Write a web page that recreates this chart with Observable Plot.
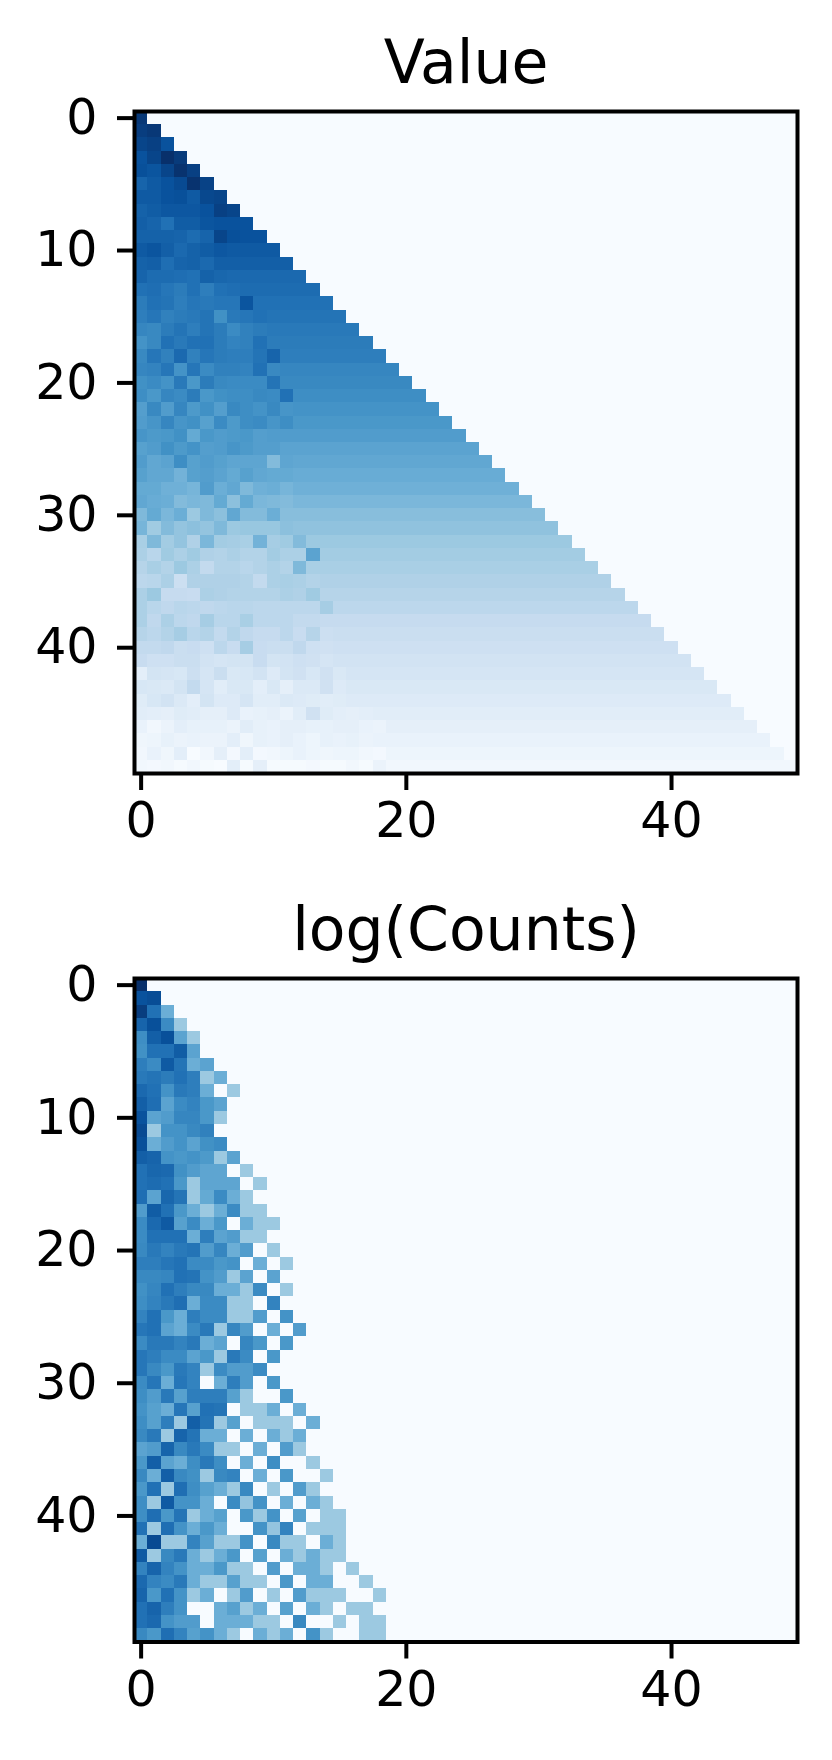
<!DOCTYPE html>
<html>
<head>
<meta charset="utf-8">
<script src="https://cdn.jsdelivr.net/npm/d3@7"></script>
<script src="https://cdn.jsdelivr.net/npm/@observablehq/plot@0.6"></script>
<style>
html,body{margin:0;padding:0;background:#fff}
svg{display:block}
</style>
</head>
<body>
<div id="chart"></div>
<script>
const titles = ["Value", "log(Counts)"];
const xTickValues = [0, 20, 40];
const yTickValues = [0, 10, 20, 30, 40];
const gridSize = 50;
const blues = ["#f7fbff","#deebf7","#c6dbef","#9ecae1","#6baed6","#4292c6","#2171b5","#08519c","#08306b"];
const bluesDomain = [0,12.5,25,37.5,50,62.5,75,87.5,100];

// Value panel: left-hand noisy cells of each row
const valueLeft = [
[97],[95,97],[92,94,87],[87,92,100,96],[88,86,92,99,94],[80,84,87,90,99,93],
[84,84,87,88,84,91,92],[81,83,85,85,85,87,94,92],[82,80,75,83,83,86,87,87,87],
[81,81,81,80,77,80,92,88,87,87],[84,86,82,78,81,83,85,84,84,84,84],
[81,82,76,80,81,78,82,82,82,82,82,82],[80,77,77,76,75,81,79,78,78,78,78,78,78],
[75,76,73,71,75,70,75,76],[71,75,74,70,73,72,73,73,86,75],[70,73,69,71,72,74,63,72,73,75],
[67,66,71,74,70,74,71,65,69,71],[62,66,75,72,75,75,71,68,69,75],
[66,73,69,78,69,73,71,70,70,74,80],[67,68,73,62,73,65,69,69,68,75,66],
[63,65,62,72,60,71,66,65,65,65,74],[64,60,67,65,71,60,63,64,64,66,65,75],
[57,66,58,67,59,63,57,66,64,62,66,61],[58,61,67,61,63,56,65,59,64,65,61,64],
[61,59,60,63,52,60,58,59,60,57,58,58],[56,58,63,59,62,57,58,61,59,57,57,55],
[58,53,55,64,56,58,56,54,54,54,44,54],[56,53,53,48,56,57,55,52,56,53,52,52],
[52,52,49,49,47,58,50,53,45,49,50,47],[53,51,50,44,46,45,52,42,52,46,45,44],
[45,52,46,50,38,45,42,53,44,44,50,43],[47,37,44,40,42,40,45,38,39,39,39,42],
[34,45,36,40,32,46,36,35,34,48,35,37,44],[33,29,37,33,37,32,31,33,31,31,36,33,33,55],
[30,34,31,38,33,26,31,31,29,31,33,31,45],[28,29,33,22,32,32,32,32,31,26,33,34,33,31],
[33,38,25,25,24,33,32,31,31,31,31,33,32,37],[33,29,27,29,28,27,28,29,29,28,28,28,28,28,35],
[33,27,33,28,27,35,29,29,34,28,28,28,26,26,25],[30,28,31,35,29,31,26,31,27,25,25,28,24,30,22],
[26,26,27,23,24,21,28,24,35,24,23,23,27,21,20],[24,21,21,23,23,19,17,18,18,24,18,19,21,20,17],
[10,18,17,16,22,17,23,15,16,19,13,18,20,16,20,15],[16,15,14,18,26,17,11,15,15,10,15,9,14,14,20,13],
[12,16,19,14,10,18,13,13,17,11,11,14,13,12,11,12,13],[11,10,9,12,11,9,9,13,7,8,9,6,11,20,12,10,9,10],
[7,3,6,10,8,8,8,6,11,8,7,9,9,8,8,9,9,7,6],[4,5,8,6,7,6,6,10,4,8,7,9,7,5,8,7,8,6,7],
[3,7,4,10,0,3,9,2,10,2,3,5,7,5,4,5,5,3,2],[3,2,3,1,3,1,0,10,1,9,1,1,1,2,1,1,3,1,6]
];
// Value panel: the nearly uniform colour of each row's right-hand part
const valueTail = [97,97,87,96,94,93,92,92,87,87,84,82,78,77,75,74,72,71,70,67,66,64,62,60,58,55,53,51,49,46,43,41,38,36,34,32,30,28,25,23,21,19,17,15,13,11,9,7,5,3];

// log(Counts) panel: cells of each row, 0 is the background colour
const countRows = [
[100],[87,89],[95,75,50],[80,88,65,38],[64,82,88,55,38],[63,75,75,83,55],
[70,65,84,74,50,55],[72,74,71,75,70,38,50],[78,75,62,72,70,50,0,38],
[82,76,55,65,68,60,55],[87,55,58,67,67,60,38],[90,38,62,62,66,69],
[88,50,58,62,55,63,65],[82,80,62,60,62,59,38,55],[75,79,78,63,58,54,54,0,38],
[75,77,75,60,38,54,54,54,0,38],[76,55,79,74,38,52,65,50,38,0],
[58,83,75,60,50,38,50,65,38,38],[65,78,84,56,65,50,60,0,50,38,38],
[65,75,75,75,50,70,55,58,38,38],[66,72,68,72,74,58,67,50,58,0,38],
[70,70,73,75,65,65,60,62,0,50,0,38],[66,66,67,75,74,62,58,38,55,0,55],
[63,67,75,70,66,66,50,50,38,65,0,38],[64,68,72,76,50,65,65,38,38,0,68],
[68,75,60,50,70,65,65,38,38,58,0,62],[73,75,55,50,65,72,38,67,58,0,50,0,58],
[65,72,72,68,72,50,55,0,67,60,0,60],[73,70,65,65,55,60,38,72,65,0,60],
[73,66,60,72,68,38,65,58,58,65],[65,73,50,73,68,0,50,70,58,0,60],
[64,58,72,56,70,70,70,56,38,0,0,60],[62,56,50,73,56,75,74,0,38,38,50,0,50],
[64,56,70,38,82,74,38,56,0,38,38,38,0,50],[66,72,38,80,74,50,50,0,50,0,50,38,50],
[55,58,80,66,72,65,38,38,0,50,0,58,38],[60,82,55,50,64,72,64,0,50,0,64,0,0,38],
[66,50,82,66,63,38,66,68,0,50,0,60,0,0,38],[60,75,38,76,64,56,50,38,66,0,38,0,58,38],
[64,38,84,62,62,50,0,65,40,62,0,50,0,50,38],[64,76,60,74,38,50,56,0,60,38,62,0,56,0,38,38],
[75,38,76,62,50,60,50,0,0,62,40,68,0,38,38,38],[50,90,38,38,68,56,38,38,62,0,66,38,38,0,50,38],
[84,38,66,72,50,38,50,60,0,56,0,50,38,50,38,38],[68,80,68,62,50,50,60,38,38,0,58,0,50,50,38,0,38],
[78,68,65,72,50,38,38,56,38,38,0,60,0,50,50,0,0,38],[80,60,75,62,38,50,0,38,58,0,38,0,58,38,38,38,0,0,38],
[75,80,70,62,0,0,50,56,38,50,0,56,0,50,38,0,38,38],[75,78,62,58,58,0,50,50,50,38,38,0,66,0,0,38,0,38,38],
[66,60,76,68,56,62,50,38,0,50,38,50,0,62,38,0,0,38,38]
];

const indices = d3.range(gridSize);
const valueCells = indices.flatMap(r => indices.map(c => ({
  r, c, v: c > r ? 0 : (c < valueLeft[r].length ? valueLeft[r][c] : valueTail[r])
})));
const countCells = indices.flatMap(r => indices.map(c => ({
  r, c, v: countRows[r][c] ?? 0
})));

function panel(title, cells, marginTop, marginBottom, titleDy) {
  return Plot.plot({
    width: 832,
    height: 880,
    marginLeft: 134,
    marginRight: 35,
    marginTop,
    marginBottom,
    style: {fontFamily: "'DejaVu Sans'", background: "white", overflow: "visible"},
    x: {type: "band", domain: indices, padding: 0, round: false, label: null},
    y: {type: "band", domain: indices, padding: 0, round: false, label: null},
    color: {type: "linear", domain: bluesDomain, range: blues, clamp: true},
    marks: [
      Plot.cell(cells, {x: "c", y: "r", fill: "v", shapeRendering: "crispEdges"}),
      Plot.frame({stroke: "black", strokeWidth: 4}),
      Plot.axisX({anchor: "bottom", ticks: xTickValues, tickFormat: d => String(d), tickSize: 17, tickPadding: 12, fontSize: 49, strokeWidth: 4, stroke: "black", fill: "black", label: null}),
      Plot.axisY({anchor: "left", ticks: yTickValues, tickFormat: d => String(d), tickSize: 17, tickPadding: 20, fontSize: 49, strokeWidth: 4, stroke: "black", fill: "black", label: null}),
      Plot.text([title], {text: d => d, frameAnchor: "top", dy: titleDy, fontSize: 60, fill: "black", lineAnchor: "bottom"})
    ]
  });
}

const root = document.getElementById("chart");
root.append(panel(titles[0], valueCells, 111, 107, -29));
root.append(panel(titles[1], countCells, 98, 118.5, -29));
</script>
</body>
</html>
